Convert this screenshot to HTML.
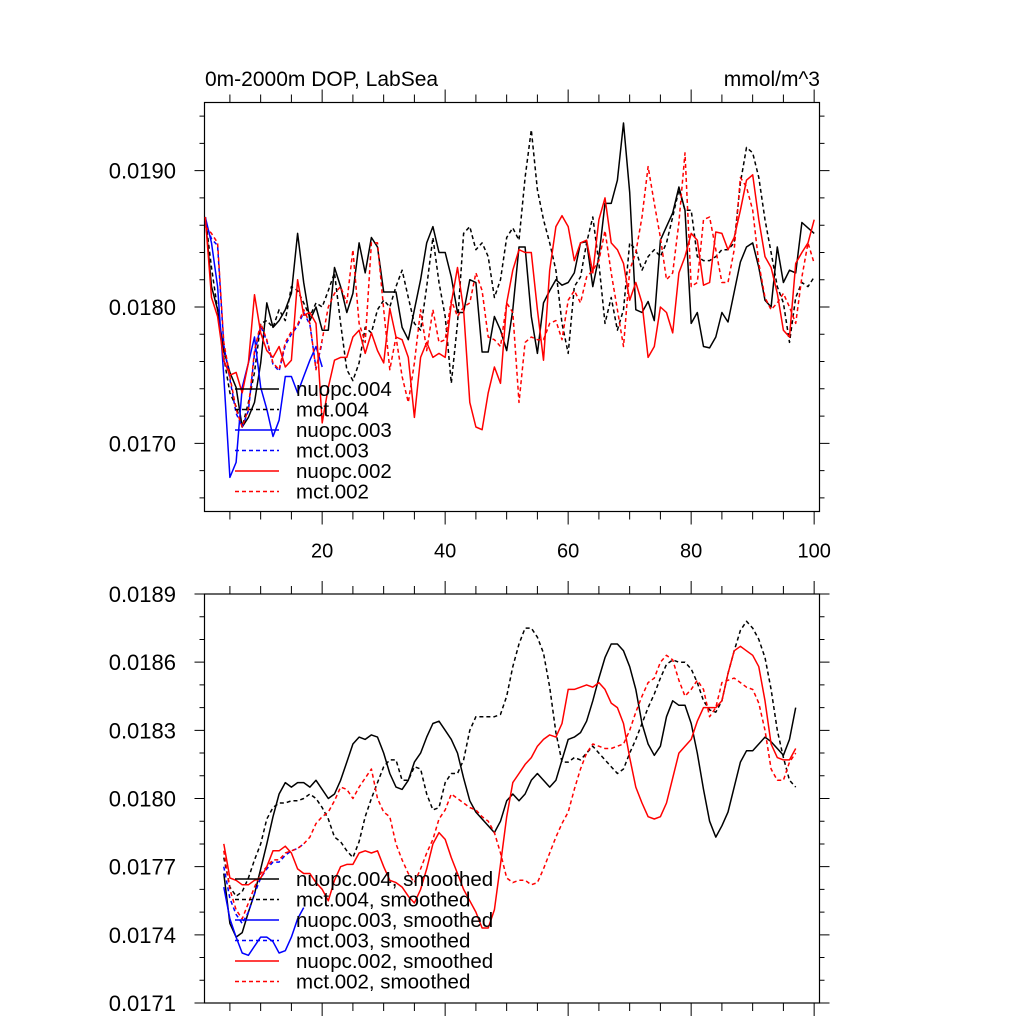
<!DOCTYPE html>
<html><head><meta charset="utf-8"><style>
html,body{margin:0;padding:0;background:#fff;}
svg{display:block;font-family:"Liberation Sans",sans-serif;}
</style></head><body>
<svg id="chart" width="1024" height="1024" viewBox="0 0 1024 1024" xmlns="http://www.w3.org/2000/svg">
<rect x="0" y="0" width="1024" height="1024" fill="#fff"/>
<g id="top"></g><g id="bot"></g>
</svg>
<script>
// values in units of 1e-5 mmol/m^3
const years = Array.from({length:100},(_,i)=>i+1);
const nuopc004 = [1866,1815,1798,1768,1752,1741,1712,1719,1730,1759,1803,1785,1790,1798,1810,1854,1818,1790,1800,1783,1783,1829,1815,1796,1810,1847,1825,1851,1844,1811,1811,1811,1785,1776,1798,1820,1847,1859,1840,1840,1822,1796,1796,1820,1818,1767,1767,1793,1783,1768,1798,1844,1844,1793,1766,1803,1812,1820,1816,1818,1825,1847,1848,1815,1837,1876,1876,1893,1935,1884,1798,1796,1804,1790,1849,1859,1869,1888,1871,1788,1796,1771,1770,1778,1796,1789,1811,1833,1844,1847,1829,1805,1800,1844,1818,1827,1825,1862,1858,1854];
const mct004 = [1866,1829,1798,1763,1737,1727,1712,1730,1752,1788,1790,1785,1798,1790,1815,1812,1803,1793,1803,1800,1812,1825,1788,1754,1746,1759,1785,1781,1798,1805,1800,1815,1827,1807,1788,1783,1815,1851,1818,1793,1744,1788,1854,1859,1842,1847,1837,1807,1820,1851,1858,1849,1895,1930,1886,1864,1847,1827,1788,1766,1815,1822,1847,1866,1832,1788,1807,1783,1798,1847,1842,1827,1837,1842,1837,1847,1866,1886,1871,1871,1837,1834,1834,1837,1842,1842,1847,1891,1917,1913,1895,1864,1840,1815,1803,1774,1807,1818,1815,1822];
const nuopc003 = [1866,1847,1815,1749,1675,1686,1741,1759,1778,1741,1725,1705,1717,1749,1749,1737,1749,1761,1771,1756];
const mct003 = [1862,1850,1845,1772,1747,1722,1712,1724,1766,1786,1775,1758,1753,1772,1780,1786,1796,1787,1755,1774];
const nuopc002 = [1866,1807,1793,1761,1750,1752,1737,1759,1809,1781,1768,1763,1771,1756,1761,1820,1794,1796,1788,1715,1741,1761,1763,1763,1778,1783,1766,1781,1768,1759,1799,1778,1776,1763,1719,1763,1774,1763,1766,1763,1803,1829,1798,1730,1712,1710,1737,1756,1744,1803,1827,1842,1840,1840,1798,1761,1827,1859,1867,1859,1834,1847,1849,1825,1864,1880,1847,1842,1832,1805,1818,1803,1763,1771,1800,1796,1781,1825,1837,1854,1849,1816,1818,1855,1854,1842,1851,1871,1893,1897,1864,1837,1829,1810,1783,1778,1832,1840,1847,1864];
const mct002 = [1859,1854,1847,1774,1749,1725,1712,1725,1768,1788,1776,1759,1754,1774,1782,1787,1798,1788,1754,1776,1800,1810,1815,1803,1842,1788,1774,1847,1847,1798,1754,1778,1749,1730,1759,1798,1768,1798,1774,1776,1805,1793,1800,1803,1825,1812,1778,1776,1771,1803,1796,1730,1774,1778,1776,1776,1788,1790,1776,1805,1812,1803,1822,1827,1834,1856,1825,1798,1771,1827,1840,1866,1903,1876,1851,1820,1825,1862,1913,1815,1818,1864,1866,1842,1818,1818,1842,1895,1888,1871,1832,1807,1798,1803,1810,1800,1788,1822,1847,1832];
// smoothed series start at year 4
const smYears = Array.from({length:94},(_,i)=>i+4);
const nuopc004s = [1767,1745,1739,1741,1750,1758,1769,1780,1792,1802,1807,1805,1807,1807,1805,1808,1804,1800,1802,1808,1816,1824,1827,1826,1828,1827,1820,1811,1805,1804,1808,1816,1820,1827,1833,1834,1830,1826,1820,1809,1799,1794,1791,1788,1785,1790,1799,1802,1799,1802,1808,1811,1808,1805,1808,1817,1826,1827,1829,1834,1843,1853,1862,1868,1868,1865,1858,1848,1833,1824,1819,1823,1836,1843,1841,1841,1833,1820,1804,1790,1783,1788,1794,1805,1816,1821,1821,1824,1827,1825,1822,1819,1826,1840];
const mct004s = [1774,1761,1757,1759,1765,1773,1780,1791,1796,1798,1798,1799,1799,1800,1802,1800,1796,1791,1783,1781,1777,1774,1781,1792,1800,1807,1814,1817,1817,1808,1808,1814,1813,1802,1795,1796,1807,1811,1811,1817,1830,1836,1836,1836,1836,1837,1845,1858,1868,1875,1875,1871,1864,1849,1829,1816,1816,1818,1817,1820,1823,1820,1817,1814,1811,1813,1820,1826,1833,1840,1846,1853,1859,1861,1860,1860,1857,1851,1843,1839,1838,1843,1855,1865,1874,1878,1875,1870,1862,1848,1830,1818,1808,1805];
const nuopc003s = [1761,1747,1739,1732,1731,1735,1739,1739,1737,1732,1733,1739,1747,1752];
const mct003s = [1770,1756,1749,1745,1750,1758,1765,1769,1772,1772,1775,1777,1778,1780];
const nuopc002s = [1780,1765,1764,1762,1762,1764,1765,1770,1777,1777,1779,1776,1769,1767,1767,1763,1760,1755,1764,1770,1771,1771,1776,1777,1776,1777,1770,1764,1763,1761,1757,1754,1760,1769,1780,1785,1782,1774,1767,1760,1755,1750,1743,1743,1751,1771,1792,1807,1811,1815,1818,1823,1826,1828,1827,1833,1848,1848,1849,1850,1849,1851,1848,1842,1840,1833,1818,1805,1798,1792,1791,1792,1798,1809,1820,1823,1826,1834,1840,1840,1840,1843,1855,1865,1867,1865,1863,1858,1843,1824,1818,1817,1817,1822];
const mct002s = [1777,1760,1751,1747,1754,1761,1767,1770,1773,1773,1776,1777,1778,1780,1783,1789,1792,1794,1799,1805,1804,1800,1805,1809,1813,1800,1794,1792,1780,1773,1767,1763,1769,1776,1782,1791,1795,1802,1800,1798,1796,1795,1792,1790,1785,1776,1765,1763,1764,1764,1762,1763,1769,1776,1783,1789,1794,1804,1813,1820,1824,1823,1822,1822,1823,1824,1830,1838,1845,1851,1853,1860,1863,1861,1852,1845,1848,1852,1848,1836,1840,1851,1852,1853,1851,1849,1848,1842,1830,1813,1808,1808,1816,1820];

const topLabels = ["0.0170","0.0180","0.0190"];
const topTicks = [1700,1800,1900];
const botLabels = ["0.0171","0.0174","0.0177","0.0180","0.0183","0.0186","0.0189"];
const botTicks = [1710,1740,1770,1800,1830,1860,1890];
const xLabels = ["20","40","60","80","100"];
const xTicks = [20,40,60,80,100];

const NS="http://www.w3.org/2000/svg";
const L=204.5,R=819.5;
const xs = yr => 205.3 + (yr-1)*6.15;
function mk(parent,tag,attrs){const e=document.createElementNS(NS,tag);for(const k in attrs)e.setAttribute(k,attrs[k]);parent.appendChild(e);return e;}

function panel(g, T, B, vmin, vmax, majT, majL, minStep, series, legendY, suffix, drawXLabels){
  const ys = v => B - (v - vmin)/(vmax - vmin)*(B - T);
  const frame = mk(g,'rect',{x:L,y:T,width:R-L,height:B-T,fill:'none',stroke:'#000','stroke-width':1.2});
  
  
  let d='';
  for(let v=Math.ceil(vmin/minStep)*minStep; v<=vmax+1e-9; v+=minStep){
    const y=ys(v); const maj = majT.some(m=>Math.abs(m-v)<1e-6);
    const len = maj?10:5;
    d+=`M${L} ${y}H${L-len}M${R} ${y}H${R+len}`;
  }
  for(let yr=5; yr<=100; yr+=5){
    const x=xs(yr); const maj = yr%20===0; const len = maj?13:8;
    d+=`M${x} ${B}V${B+len}M${x} ${T}V${T-len}`;
  }
  const ticks = mk(g,'path',{d:d,stroke:'#000','stroke-width':1,fill:'none'});
  
  
  majT.forEach((v,i)=>{
    const t=mk(g,'text',{x:176,y:ys(v)+8,'text-anchor':'end','font-size':22});
    t.textContent=majL[i];
    
    
  });
  if(drawXLabels){
    xTicks.forEach((yr,i)=>{
      const t=mk(g,'text',{x:xs(yr),y:B+46,'text-anchor':'middle','font-size':20});
      t.textContent=xLabels[i];
      
      
    });
  }
  const clip = mk(g,'clipPath',{id:'clip'+T});
  mk(clip,'rect',{x:L,y:T,width:R-L,height:B-T});
  const lg = mk(g,'g',{'clip-path':`url(#clip${T})`});
  series.forEach(s=>{
    const pts = s.vals.map((v,i)=>`${xs(s.x[i]).toFixed(1)},${ys(v/100000).toFixed(1)}`).join(' ');
    const pl = mk(lg,'polyline',{points:pts,fill:'none',stroke:s.color,'stroke-width':1.5,'stroke-linejoin':'round'});
    if(s.dash) pl.setAttribute('stroke-dasharray','4,3');
    
    
  });
  series.forEach((s,i)=>{
    const y = legendY + i*20.5;
    const ln = mk(g,'line',{x1:235,x2:279,y1:y,y2:y,stroke:s.color,'stroke-width':1.5});
    if(s.dash) ln.setAttribute('stroke-dasharray','4,3');
    
    
    const t = mk(g,'text',{x:296,y:y+7,'font-size':20.5});
    t.textContent = s.name+suffix;
    
    
  });
  return ys;
}

const topG=document.getElementById('top');


panel(topG,102.5,511.5,0.0165,0.0195,topTicks.map(v=>v/100000),topLabels,0.0002,[
  {name:'nuopc.004',vals:nuopc004,x:years,color:'#000',dash:false},
  {name:'mct.004',vals:mct004,x:years,color:'#000',dash:true},
  {name:'nuopc.003',vals:nuopc003,x:years,color:'#0000ff',dash:false},
  {name:'mct.003',vals:mct003,x:years,color:'#0000ff',dash:true},
  {name:'nuopc.002',vals:nuopc002,x:years,color:'#ff0000',dash:false},
  {name:'mct.002',vals:mct002,x:years,color:'#ff0000',dash:true}
],389,'',true);
const t1=document.createElementNS(NS,'text');
t1.setAttribute('x',205);t1.setAttribute('y',86);t1.setAttribute('font-size',21);
t1.textContent='0m-2000m DOP, LabSea';


topG.appendChild(t1);
const t2=document.createElementNS(NS,'text');
t2.setAttribute('x',820);t2.setAttribute('y',86);t2.setAttribute('font-size',21);t2.setAttribute('text-anchor','end');
t2.textContent='mmol/m^3';


topG.appendChild(t2);

const botG=document.getElementById('bot');


panel(botG,594,1003,0.0171,0.0189,botTicks.map(v=>v/100000),botLabels,0.0001,[
  {name:'nuopc.004',vals:nuopc004s,x:smYears,color:'#000',dash:false},
  {name:'mct.004',vals:mct004s,x:smYears,color:'#000',dash:true},
  {name:'nuopc.003',vals:nuopc003s,x:smYears,color:'#0000ff',dash:false},
  {name:'mct.003',vals:mct003s,x:smYears,color:'#0000ff',dash:true},
  {name:'nuopc.002',vals:nuopc002s,x:smYears,color:'#ff0000',dash:false},
  {name:'mct.002',vals:mct002s,x:smYears,color:'#ff0000',dash:true}
],879,', smoothed',false);
</script>
</body></html>
